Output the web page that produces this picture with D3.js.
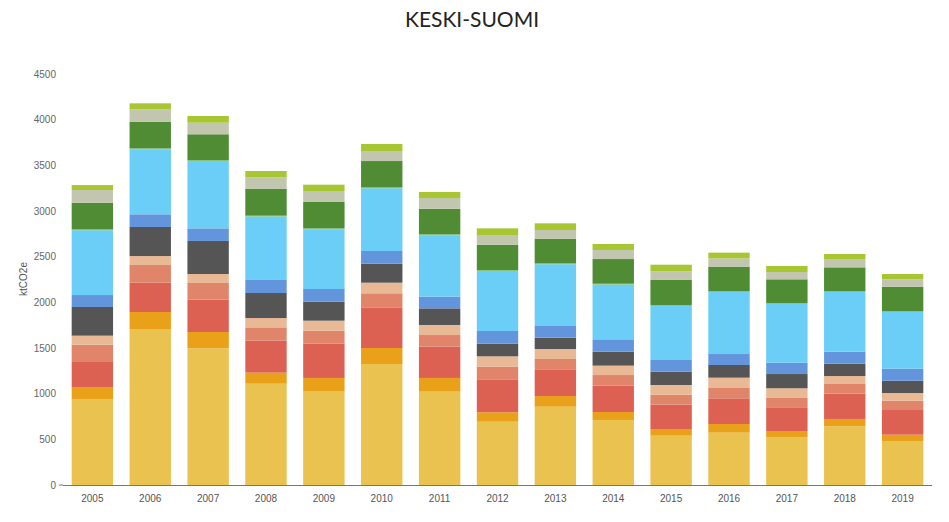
<!DOCTYPE html>
<html><head><meta charset="utf-8">
<script src="https://cdn.jsdelivr.net/npm/d3@7"></script>
<style>body{margin:0;background:#fff}svg{display:block}</style>
</head><body>
<script>
const years = ["2005","2006","2007","2008","2009","2010","2011","2012","2013","2014","2015","2016","2017","2018","2019"];
const seriesNames = ["Sarja 1","Sarja 2","Sarja 3","Sarja 4","Sarja 5","Sarja 6","Sarja 7","Sarja 8","Sarja 9","Sarja 10","Sarja 11","Sarja 12"];
const s1  = [942,1708,1496,1109,1029,1325,1022,693,857,712,540,573,526,643,482];
const s2  = [131,186,179,121,143,175,150,103,117,87,73,95,65,80,69];
const s3  = [274,321,354,350,375,445,343,361,293,289,267,281,260,277,270];
const s4  = [189,194,183,146,143,154,127,139,113,116,109,113,102,106,102];
const s5  = [99,98,98,102,109,116,110,113,109,103,106,113,106,87,84];
const s6  = [314,318,362,274,208,208,182,138,124,153,146,139,156,135,135];
const s7  = [131,139,138,143,139,139,128,139,135,135,128,120,124,132,132];
const s8  = [709,712,738,694,654,687,673,658,669,599,592,680,644,654,621];
const s9  = [10,10,10,10,10,10,10,10,10,10,10,10,10,10,10];
const s10 = [292,292,282,296,289,288,280,277,270,270,274,267,259,259,266];
const s11 = [139,135,127,124,120,110,117,106,95,99,95,91,80,91,81];
const s12 = [54,66,73,69,69,77,66,73,73,66,72,62,66,55,58];
const colors = ["#EAC24F","#E8A119","#DD6153","#E0846A","#E9B995","#555555","#6395DD","#6ACEF6","#7CC07A","#4F8C34","#C3C6AE","#A8C631"];
const yTicks = [0,500,1000,1500,2000,2500,3000,3500,4000,4500];

const allSeries = [s1,s2,s3,s4,s5,s6,s7,s8,s9,s10,s11,s12];
const table = years.map((y,i)=>{const r={year:y};seriesNames.forEach((n,k)=>r[n]=allSeries[k][i]);return r;});
const stacked = d3.stack().keys(seriesNames)(table);

const W=949,H=522;
const svg=d3.select("body").append("svg").attr("width",W).attr("height",H);
const x=d3.scaleBand().domain(years).range([63,932]).paddingInner(0.285).paddingOuter(0.15);
const y=d3.scaleLinear().domain([0,4500]).range([485,74]);

svg.append("text").attr("x",472).attr("y",27).attr("text-anchor","middle")
  .attr("font-family","Lato, 'Open Sans', sans-serif").attr("font-size",21).attr("fill","#222")
  .text("KESKI-SUOMI");

svg.append("g").selectAll("g").data(stacked).join("g").attr("fill",(d,i)=>colors[i])
  .selectAll("rect").data(d=>d).join("rect")
  .attr("x",d=>x(d.data.year)).attr("width",x.bandwidth())
  .attr("y",d=>y(d[1])).attr("height",d=>y(d[0])-y(d[1]));

// y axis labels
const ya=svg.append("g");
ya.selectAll("text").data(yTicks).join("text")
  .attr("x",56).attr("y",d=>y(d)).attr("dy","0.35em").attr("text-anchor","end")
  .attr("font-family","'Liberation Sans', Arial, sans-serif").attr("font-size",10).attr("fill","#666")
  .text(d=>d);
ya.append("line").attr("x1",59).attr("x2",63).attr("y1",y(0)).attr("y2",y(0)).attr("stroke","#777");

// x axis
svg.append("line").attr("x1",63).attr("x2",932).attr("y1",y(0)+0.5).attr("y2",y(0)+0.5).attr("stroke","#777").attr("stroke-width",1);
svg.append("g").selectAll("text").data(years).join("text")
  .attr("x",d=>x(d)+x.bandwidth()/2).attr("y",498).attr("dy","0.35em").attr("text-anchor","middle")
  .attr("font-family","'Liberation Sans', Arial, sans-serif").attr("font-size",10).attr("fill","#555")
  .text(d=>d);

svg.append("text").attr("transform","translate(23,279) rotate(-90)").attr("text-anchor","middle")
  .attr("dy","0.35em").attr("font-family","'Liberation Sans', Arial, sans-serif").attr("font-size",10).attr("fill","#555")
  .text("ktCO2e");
</script>
</body></html>
